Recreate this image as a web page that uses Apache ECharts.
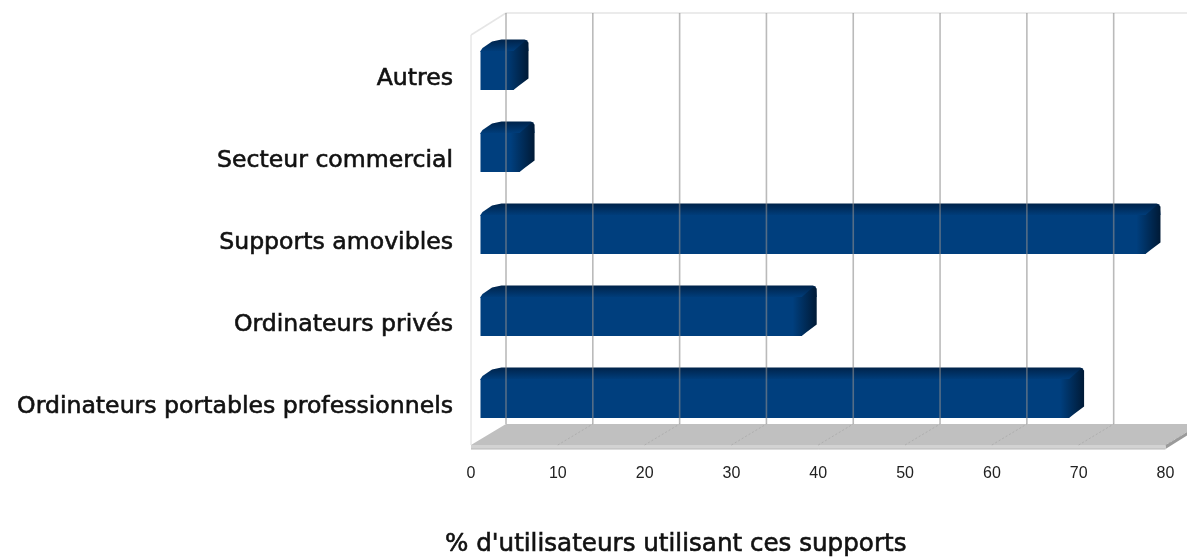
<!DOCTYPE html>
<html><head><meta charset="utf-8">
<style>html,body{margin:0;padding:0;background:#fff}#c{width:1187px;height:557px}</style>
<script src="https://cdn.jsdelivr.net/npm/echarts@6/dist/echarts.min.js"></script>
</head><body><div id="c"></div>
<script>
const categories = ["Ordinateurs portables professionnels","Ordinateurs privés","Supports amovibles","Secteur commercial","Autres"];
const values = [67.8, 37, 76.6, 4.5, 3.8];
const xTicks = [0,10,20,30,40,50,60,70,80];
const axisTitle = "% d'utilisateurs utilisant ces supports";

const DX = 35, DY = -21;        // wall depth
const BAR_INSET_X = 9.5, BAR_INSET_Y = -6; // bar front offset in depth
const BDX = 21, BDXR = 15, BDY = -11.5;    // bar depth
const BAR_H = 39;

const chart = echarts.init(document.getElementById('c'), null, {renderer:'canvas'});

function backdrop(params, api){
  const cs = params.coordSys, l = cs.x, r = cs.x + cs.width, t = cs.y, b = cs.y + cs.height;
  const kids = [];
  if (params.dataIndex === 0){
    kids.push(
      {type:'polygon',shape:{points:[[r,b+4],[r+DX,b+DY+3],[r+DX,b+DY],[r,b]]},style:{fill:'#9a9a9a'}},
      {type:'polygon',shape:{points:[[l,b],[l+DX,b+DY],[r+DX,b+DY],[r,b]]},style:{fill:'#c0c0c0'}},
      {type:'rect',shape:{x:l,y:b,width:r-l,height:4},style:{fill:'#d2d2d2'}},
      {type:'line',shape:{x1:l,y1:b+4,x2:r,y2:b+4},style:{stroke:'#b8b8b8',lineWidth:1}},
      {type:'line',shape:{x1:l,y1:t,x2:l,y2:b},style:{stroke:'#dcdcdc',lineWidth:1}},
      {type:'line',shape:{x1:l,y1:t,x2:l+DX,y2:t+DY-1},style:{stroke:'#e6e6e6',lineWidth:1.5}},
      {type:'line',shape:{x1:l+DX,y1:t+DY-1,x2:r+DX,y2:t+DY-1},style:{stroke:'#e4e4e4',lineWidth:1.5}}
    );
  }
  const x = api.coord([api.value(0),0])[0];
  if (params.dataIndex > 0){
    kids.push({type:'line',shape:{x1:x,y1:b,x2:x+DX,y2:b+DY},style:{stroke:'#aeaeae',lineWidth:1,lineDash:[2,2]}});
  }
  return {type:'group',children:kids};
}

function gridLines(params, api){
  const cs = params.coordSys, t = cs.y, b = cs.y + cs.height;
  const x = api.coord([api.value(0),0])[0] + DX;
  return {type:'line',shape:{x1:x,y1:t+DY-1,x2:x,y2:b+DY},style:{stroke:'rgba(140,140,140,0.6)',lineWidth:1.6}};
}

function bar3d(params, api){
  const cs = params.coordSys;
  const p = api.coord([api.value(0), api.value(1)]);
  const x0 = cs.x + BAR_INSET_X, xr = p[0] + BAR_INSET_X;
  const yb = Math.round(p[1] + BAR_INSET_Y + BAR_H/2), yt = yb - BAR_H;
  const front = '#003f7e', dark = '#001a36', top = '#00234a';
  const topPts = [[x0,yt+1],[x0,yt],[x0+2,yt-3],[x0+BDX*0.55,yt+BDY+2],[x0+BDX,yt+BDY],[xr+BDXR-4,yt+BDY],[xr+BDXR-1,yt+BDY+1],[xr+BDXR,yt],[xr,yt+1]];
  const sidePts = [[xr-9,yt],[xr,yt],[xr+BDXR-3,yt+BDY+1],[xr+BDXR,yt+BDY+3],[xr+BDXR,yb+BDY],[xr+5,yb+BDY*0.35],[xr,yb],[xr-9,yb]];
  return {type:'group',children:[
    {type:'polygon',shape:{points:topPts},style:{fill:new echarts.graphic.LinearGradient(0,0,0,1,[{offset:0,color:top},{offset:1,color:front}])}},
    {type:'rect',shape:{x:x0,y:yt,width:xr-x0,height:BAR_H},style:{fill:front}},
    {type:'polygon',shape:{points:sidePts},style:{fill:new echarts.graphic.LinearGradient(0,0,1,0,[{offset:0,color:front},{offset:1,color:dark}])}}
  ]};
}

chart.setOption({
  animation:false,
  backgroundColor:'#fff',
  title:{text:axisTitle,left:440,top:527,textStyle:{fontFamily:'DejaVu Sans',fontSize:24.6,fontWeight:'normal',color:'#111',textBorderColor:'#111',textBorderWidth:0.6}},
  grid:{left:471,top:35,width:694.5,height:410,containLabel:false},
  xAxis:{type:'value',min:0,max:80,interval:10,
    axisLine:{show:false},axisTick:{show:false},splitLine:{show:false},
    axisLabel:{margin:21,fontFamily:'Liberation Sans',fontSize:16,color:'#222',formatter:v=>xTicks.includes(v)?String(v):''}},
  yAxis:{type:'category',data:categories,
    axisLine:{show:false},axisTick:{show:false},splitLine:{show:false},
    axisLabel:{margin:18,formatter:v=>'{a|'+v+'}',
      rich:{a:{padding:[6,0,0,0],fontFamily:'DejaVu Sans',fontSize:23.6,color:'#111',textBorderColor:'#111',textBorderWidth:0.6}}}},
  series:[
    {type:'custom',name:'decor',z:1,silent:true,clip:false,renderItem:backdrop,data:xTicks.map(v=>[v]),encode:{x:0}},
    {type:'custom',name:'bars',z:2,clip:false,renderItem:bar3d,data:values.map((v,i)=>[v,i]),encode:{x:0,y:1}},
    {type:'custom',name:'lines',z:3,silent:true,clip:false,renderItem:gridLines,data:xTicks.map(v=>[v]),encode:{x:0}}
  ]
});
</script></body></html>
